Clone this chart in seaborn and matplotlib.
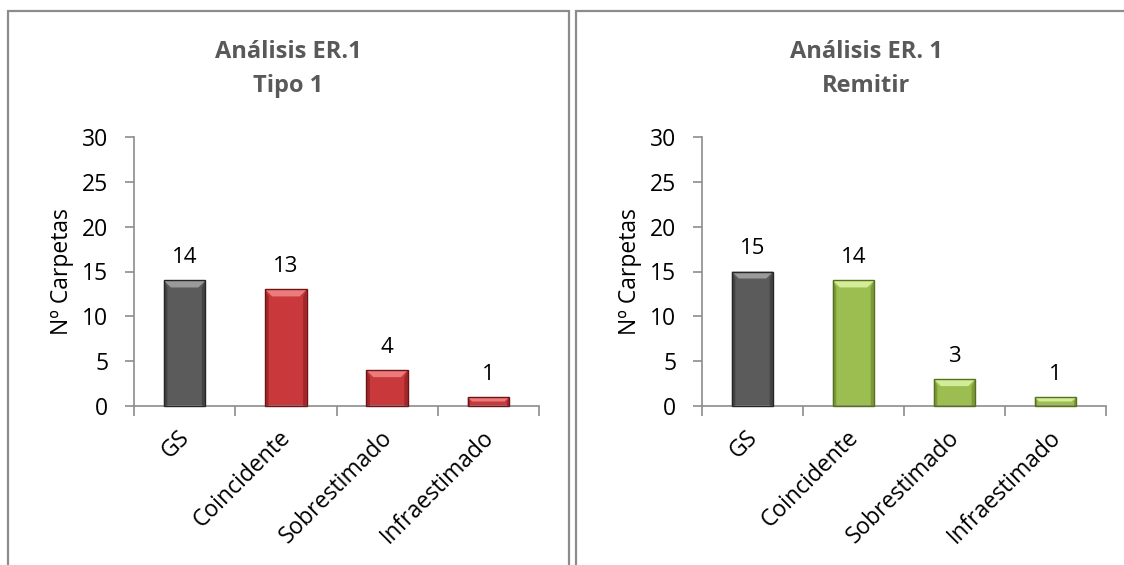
import matplotlib
matplotlib.use("Agg")
import matplotlib.pyplot as plt
from matplotlib.patches import Polygon, Rectangle
from matplotlib.transforms import IdentityTransform, ScaledTranslation
import numpy as np
import pandas as pd
import seaborn as sns

categories = ["GS", "Coincidente", "Sobrestimado", "Infraestimado"]
tipo1_values = [14, 13, 4, 1]
remitir_values = [15, 14, 3, 1]
title_lines = [("Análisis ER.1", "Tipo 1"), ("Análisis ER. 1", "Remitir")]
y_label = "Nº Carpetas"
y_ticks = [0, 5, 10, 15, 20, 25, 30]

GRAY = ("#5b5b5b", "#9a9a9a", "#262626")
RED = ("#c9383b", "#ec7b7b", "#6e1416")
GREEN = ("#9cbd4f", "#d3ec98", "#56701f")

sns.set_theme(style="white")
plt.rcParams["font.family"] = ["Open Sans", "DejaVu Sans"]

fig = plt.figure(figsize=(11.24, 5.65), dpi=100)
W, H = 1124, 565

# panel frames
for x0, x1 in [(8, 569), (576, 1130)]:
    fig.add_artist(Rectangle((x0 / W, -0.05), (x1 - x0) / W, (565 - 11) / H + 0.05,
                             transform=fig.transFigure, fill=False,
                             edgecolor="#8c8c8c", linewidth=1.6))

axes_specs = [
    (134, 539, tipo1_values, RED, title_lines[0], 288, 74),
    (702, 1106, remitir_values, GREEN, title_lines[1], 866, 642),
]

label_shift = ScaledTranslation(-7 / 100, -6 / 100, fig.dpi_scale_trans)

for (px0, px1, values, scheme, tlines, tx, ylx) in axes_specs:
    ax = fig.add_axes([px0 / W, 1 - 406 / H, (px1 - px0) / W, (406 - 137) / H])
    df = pd.DataFrame({"cat": categories, "val": values})
    schemes = [GRAY] + [scheme] * (len(categories) - 1)
    palette = {c: s[0] for c, s in zip(categories, schemes)}
    sns.barplot(data=df, x="cat", y="val", hue="cat", palette=palette,
                width=0.41, legend=False, ax=ax, saturation=1,
                edgecolor="none", linewidth=0)
    ax.set_ylim(0, 30)
    ax.set_xlim(-0.5, len(categories) - 0.5)
    ax.set_yticks(y_ticks)
    ax.set_yticklabels([str(t) for t in y_ticks], fontsize=16.5, color="black")
    ax.set_xticks(np.arange(len(categories)))
    ax.set_xticklabels(categories, fontsize=16.5, rotation=45, ha="right",
                       rotation_mode="anchor", color="black")
    ax.set_xlabel("")
    ax.set_ylabel(y_label, fontsize=16.5, color="black")
    ax.yaxis.set_label_coords((ylx - px0) / (px1 - px0), 0.5)
    for s in ["top", "right"]:
        ax.spines[s].set_visible(False)
    for s in ["left", "bottom"]:
        ax.spines[s].set_color("#8c8c8c")
        ax.spines[s].set_linewidth(1.2)
    ax.tick_params(axis="y", which="major", left=True, length=6.5, width=1.2,
                   color="#8c8c8c", pad=12)
    ax.tick_params(axis="x", which="major", bottom=False, pad=4)
    # category boundary ticks
    ax.set_xticks(np.arange(len(categories) + 1) - 0.5, minor=True)
    ax.tick_params(axis="x", which="minor", bottom=True, length=7, width=1.2,
                   color="#8c8c8c")
    ax.set_facecolor("none")

    for line, ty in zip(tlines, (52, 86)):
        fig.text(tx / W, 1 - ty / H, line, ha="center", va="center", fontsize=17,
                 fontweight="bold", color="#595959")

    fig.canvas.draw()
    for tick in ax.xaxis.get_major_ticks():
        tick.label1.set_transform(tick.label1.get_transform() + label_shift)

    for patch, s, v in zip(ax.patches, schemes, values):
        x = patch.get_x(); w = patch.get_width(); h = patch.get_height()
        (X0, Y0) = ax.transData.transform((x, 0))
        (X1, Y1) = ax.transData.transform((x + w, h))
        depth = min(7.0, (Y1 - Y0) / 2)
        # top bevel
        top = Polygon([(X0, Y1), (X1, Y1), (X1 - depth, Y1 - depth), (X0 + depth, Y1 - depth)],
                      closed=True, transform=IdentityTransform(), facecolor=s[1],
                      edgecolor="none", zorder=3)
        # darker side bands
        left = Polygon([(X0, Y0), (X0, Y1), (X0 + depth * 0.5, Y1 - depth), (X0 + depth * 0.5, Y0)],
                       closed=True, transform=IdentityTransform(), facecolor=s[2],
                       alpha=0.45, edgecolor="none", zorder=3)
        right = Polygon([(X1, Y0), (X1, Y1), (X1 - depth * 0.5, Y1 - depth), (X1 - depth * 0.5, Y0)],
                        closed=True, transform=IdentityTransform(), facecolor=s[2],
                        alpha=0.45, edgecolor="none", zorder=3)
        outline = Rectangle((X0, Y0), X1 - X0, Y1 - Y0, transform=IdentityTransform(),
                            fill=False, edgecolor=s[2], linewidth=1.0, zorder=4)
        for art in (top, left, right, outline):
            fig.add_artist(art)
        ax.annotate(str(v), (x + w / 2, h), xytext=(0, 9), textcoords="offset points",
                    ha="center", va="bottom", fontsize=16, color="black")

fig.savefig("out.png", dpi=100)
